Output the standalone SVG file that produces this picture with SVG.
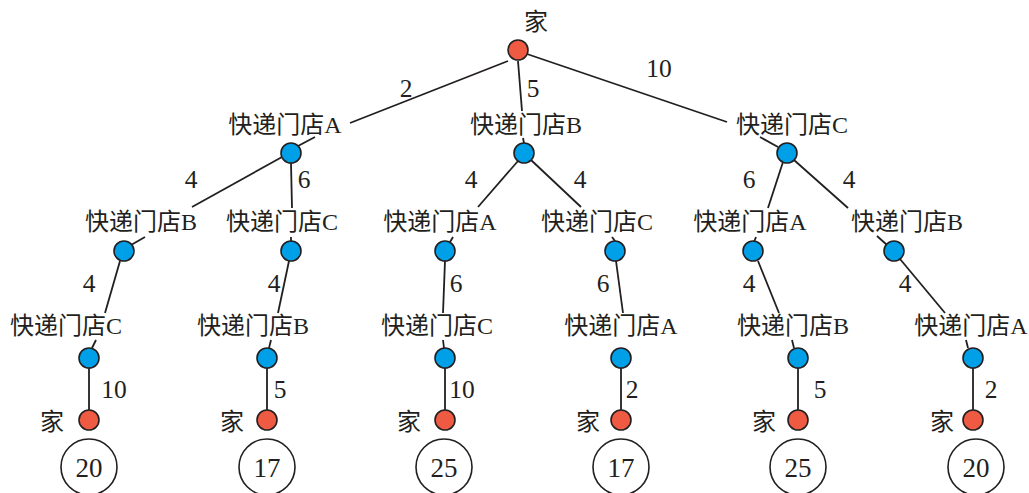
<svg xmlns="http://www.w3.org/2000/svg" width="1029" height="493" viewBox="0 0 1029 493">
<style>
.bg{fill:#fff}
.e{stroke:#231f20;stroke-width:1.8;fill:none;stroke-linecap:butt}
.s{fill:#00a0e9;stroke:#231f20;stroke-width:1.6}
.h{fill:#ef5a42;stroke:#231f20;stroke-width:1.6}
.r{fill:#fff;stroke:#231f20;stroke-width:1.6}
text{font-family:"Liberation Serif","Noto Sans CJK SC",serif;fill:#231f20;text-anchor:middle}
.lb{font-size:24px}
.w{font-size:25.5px}
.res{font-size:27px}
</style>
<rect class="bg" x="0" y="0" width="1029" height="493"/>
<g id="connectors">
  <line class="e" x1="508" y1="61" x2="350" y2="123"/>
  <line class="e" x1="315" y1="137" x2="298" y2="146"/>
  <line class="e" x1="518" y1="61" x2="522" y2="111"/>
  <line class="e" x1="523" y1="138" x2="524" y2="143"/>
  <line class="e" x1="527" y1="54" x2="727" y2="122"/>
  <line class="e" x1="760" y1="137" x2="778" y2="147"/>

  <line class="e" x1="282" y1="157" x2="192" y2="207"/>
  <line class="e" x1="145" y1="237" x2="131" y2="245"/>
  <line class="e" x1="291" y1="163" x2="292" y2="208"/>
  <line class="e" x1="291" y1="237" x2="291" y2="241"/>
  <line class="e" x1="518" y1="161" x2="478" y2="207"/>
  <line class="e" x1="453" y1="237" x2="450" y2="242"/>
  <line class="e" x1="531" y1="160" x2="581" y2="207"/>
  <line class="e" x1="612" y1="237" x2="615" y2="241"/>
  <line class="e" x1="783" y1="162" x2="768" y2="208"/>
  <line class="e" x1="756" y1="237" x2="754" y2="242"/>
  <line class="e" x1="794" y1="160" x2="848" y2="208"/>
  <line class="e" x1="877" y1="236" x2="887" y2="245"/>

  <line class="e" x1="120" y1="261" x2="105" y2="313"/>
  <line class="e" x1="96" y1="340" x2="92" y2="348"/>
  <line class="e" x1="289" y1="261" x2="278" y2="313"/>
  <line class="e" x1="271" y1="340" x2="269" y2="348"/>
  <line class="e" x1="445" y1="261" x2="443" y2="313"/>
  <line class="e" x1="443" y1="340" x2="444" y2="348"/>
  <line class="e" x1="616" y1="261" x2="623" y2="313"/>
  <line class="e" x1="758" y1="261" x2="779" y2="313"/>
  <line class="e" x1="792" y1="340" x2="794" y2="348"/>
  <line class="e" x1="900" y1="259" x2="945" y2="313"/>
  <line class="e" x1="966" y1="340" x2="968" y2="348"/>

  <line class="e" x1="89" y1="368" x2="89" y2="410"/>
  <line class="e" x1="267" y1="368" x2="267" y2="410"/>
  <line class="e" x1="445" y1="368" x2="445" y2="410"/>
  <line class="e" x1="621" y1="368" x2="621" y2="410"/>
  <line class="e" x1="798" y1="368" x2="798" y2="410"/>
  <line class="e" x1="973" y1="368" x2="973" y2="410"/>

  <g class="w">
    <text x="406" y="97">2</text>
    <text x="533" y="97">5</text>
    <text x="659" y="77">10</text>
    <text x="191" y="188">4</text>
    <text x="304" y="188">6</text>
    <text x="471" y="188">4</text>
    <text x="580" y="188">4</text>
    <text x="749" y="188">6</text>
    <text x="849" y="188">4</text>
    <text x="89" y="292">4</text>
    <text x="274" y="292">4</text>
    <text x="456" y="292">6</text>
    <text x="603" y="292">6</text>
    <text x="749" y="292">4</text>
    <text x="905" y="292">4</text>
    <text x="114" y="398">10</text>
    <text x="280" y="398">5</text>
    <text x="462" y="398">10</text>
    <text x="632" y="398">2</text>
    <text x="820" y="398">5</text>
    <text x="991" y="398">2</text>
  </g>
</g>
<g id="root"><circle class="h" cx="518" cy="50" r="10"/><text class="lb" x="536" y="30">家</text></g>
<g id="l1-A"><circle class="s" cx="291" cy="153" r="10"/><text class="lb" x="285" y="133">快递门店A</text></g>
<g id="l1-B"><circle class="s" cx="524" cy="153" r="10"/><text class="lb" x="526" y="133">快递门店B</text></g>
<g id="l1-C"><circle class="s" cx="787" cy="153" r="10"/><text class="lb" x="792" y="133">快递门店C</text></g>

<g id="l2-AB"><circle class="s" cx="124" cy="251" r="10"/><text class="lb" x="141" y="230">快递门店B</text></g>
<g id="l2-AC"><circle class="s" cx="291" cy="251" r="10"/><text class="lb" x="282" y="230">快递门店C</text></g>
<g id="l2-BA"><circle class="s" cx="445" cy="251" r="10"/><text class="lb" x="440" y="230">快递门店A</text></g>
<g id="l2-BC"><circle class="s" cx="615" cy="251" r="10"/><text class="lb" x="597" y="230">快递门店C</text></g>
<g id="l2-CA"><circle class="s" cx="753" cy="251" r="10"/><text class="lb" x="750" y="230">快递门店A</text></g>
<g id="l2-CB"><circle class="s" cx="894" cy="251" r="10"/><text class="lb" x="907" y="230">快递门店B</text></g>

<g id="l3-1"><circle class="s" cx="89" cy="358" r="10"/><text class="lb" x="66" y="334">快递门店C</text></g>
<g id="l3-2"><circle class="s" cx="267" cy="358" r="10"/><text class="lb" x="253" y="334">快递门店B</text></g>
<g id="l3-3"><circle class="s" cx="445" cy="358" r="10"/><text class="lb" x="437" y="334">快递门店C</text></g>
<g id="l3-4"><circle class="s" cx="621" cy="358" r="10"/><text class="lb" x="621" y="334">快递门店A</text></g>
<g id="l3-5"><circle class="s" cx="798" cy="358" r="10"/><text class="lb" x="793" y="334">快递门店B</text></g>
<g id="l3-6"><circle class="s" cx="973" cy="358" r="10"/><text class="lb" x="971" y="334">快递门店A</text></g>

<g id="home-1"><circle class="h" cx="89" cy="420" r="10"/><text class="lb" x="52" y="430">家</text></g>
<g id="home-2"><circle class="h" cx="267" cy="420" r="10"/><text class="lb" x="232" y="430">家</text></g>
<g id="home-3"><circle class="h" cx="445" cy="420" r="10"/><text class="lb" x="409" y="430">家</text></g>
<g id="home-4"><circle class="h" cx="621" cy="420" r="10"/><text class="lb" x="588" y="430">家</text></g>
<g id="home-5"><circle class="h" cx="798" cy="420" r="10"/><text class="lb" x="764" y="430">家</text></g>
<g id="home-6"><circle class="h" cx="973" cy="420" r="10"/><text class="lb" x="942" y="430">家</text></g>

<g id="total-1"><circle class="r" cx="89" cy="467" r="28"/><text class="res" x="89" y="477">20</text></g>
<g id="total-2"><circle class="r" cx="267" cy="467" r="28"/><text class="res" x="267" y="477">17</text></g>
<g id="total-3"><circle class="r" cx="444" cy="467" r="28"/><text class="res" x="444" y="477">25</text></g>
<g id="total-4"><circle class="r" cx="621" cy="467" r="28"/><text class="res" x="621" y="477">17</text></g>
<g id="total-5"><circle class="r" cx="798" cy="467" r="28"/><text class="res" x="798" y="477">25</text></g>
<g id="total-6"><circle class="r" cx="976" cy="467" r="28"/><text class="res" x="976" y="477">20</text></g>
</svg>
